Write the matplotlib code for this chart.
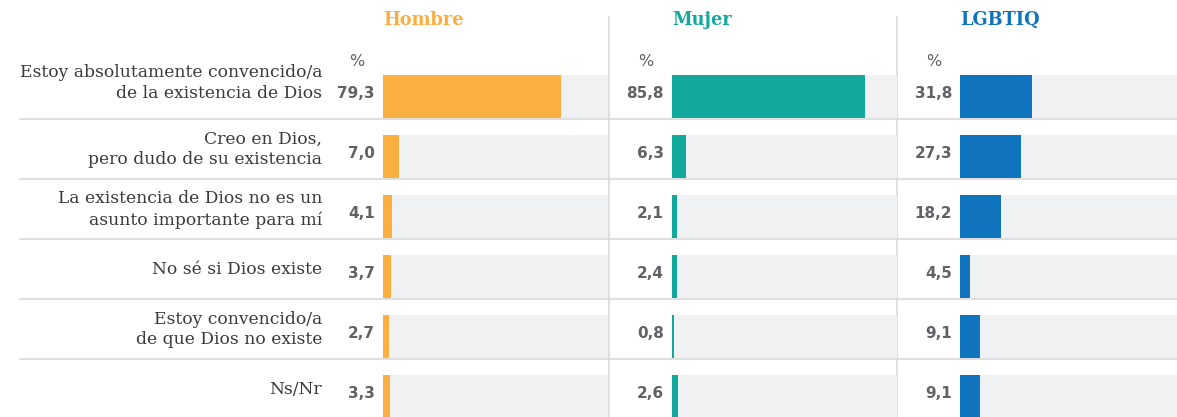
import matplotlib
matplotlib.use('Agg')
import matplotlib.pyplot as plt

categories = [
    'Estoy absolutamente convencido/a\nde la existencia de Dios',
    'Creo en Dios,\npero dudo de su existencia',
    'La existencia de Dios no es un\nasunto importante para mí',
    'No sé si Dios existe',
    'Estoy convencido/a\nde que Dios no existe',
    'Ns/Nr',
]
groups = ['Hombre', 'Mujer', 'LGBTIQ']
hombre = [79.3, 7.0, 4.1, 3.7, 2.7, 3.3]
mujer = [85.8, 6.3, 2.1, 2.4, 0.8, 2.6]
lgbtiq = [31.8, 27.3, 18.2, 4.5, 9.1, 9.1]

W, H = 1177, 417
colors = ['#FBAF41', '#12A89C', '#1174BE']
bg_gray = '#F0F1F3'
line_gray = '#DCDCDC'
value_color = '#616166'
label_color = '#3a3a3a'

fig = plt.figure(figsize=(W / 100, H / 100), dpi=100)

# row band: 6 rows of 60 px, first row centred at y=96.5 px from top
top_px, row_px = 66.5, 60
n = len(categories)
ax_bottom = (H - (top_px + n * row_px)) / H
ax_height = n * row_px / H

# background axes, x in pixels
bg = fig.add_axes([0, ax_bottom, 1, ax_height], zorder=0)
bg.set_xlim(0, W)
bg.set_ylim(n - 0.5, -0.5)
bg.axis('off')

for i, cat in enumerate(categories):
    # labels sit a little above the bar centre (more so in the first row)
    lift = 13.5 if i == 0 else 7
    bg.annotate(cat, xy=(322, i), xytext=(0, lift), textcoords='offset pixels',
                ha='right', va='center', family='DejaVu Serif',
                fontsize=12.3, color=label_color, linespacing=1.26)
    if i < n - 1:
        bg.axhline(i + 0.375, xmin=20 / W, xmax=1, color=line_gray, lw=1.3)

panel_left = [383, 672, 960]
for x0 in (608.5, 896.5):
    fig.add_artist(plt.Line2D([x0 / W, x0 / W], [0, (H - 17) / H],
                              color=line_gray, lw=1.3, zorder=1))

for k, (name, vals) in enumerate(zip(groups, [hombre, mujer, lgbtiq])):
    ax = fig.add_axes([panel_left[k] / W, ax_bottom, 225 / W, ax_height], zorder=2)
    ax.set_xlim(0, 100)
    ax.set_ylim(n - 0.5, -0.5)
    ax.axis('off')
    ax.patch.set_alpha(0)
    rows = list(range(n))
    ax.barh(rows, [100] * n, height=0.71, color=bg_gray, zorder=1)
    ax.barh(rows, vals, height=0.71, color=colors[k], zorder=2)
    for i, v in enumerate(vals):
        ax.annotate(f'{v:.1f}'.replace('.', ','), xy=(0, i), xytext=(-8, 3.5),
                    textcoords='offset pixels', ha='right', va='center',
                    family='DejaVu Sans', fontweight='bold', fontsize=11,
                    color=value_color)
    ax.annotate('%', xy=(0, 0), xytext=(-26, 34.5), textcoords='offset pixels',
                ha='center', va='center', family='DejaVu Sans', fontsize=11.5,
                color=value_color)
    fig.text(panel_left[k] / W, (H - 20) / H, name, ha='left', va='center',
             family='DejaVu Serif', fontweight='bold', fontsize=12.8,
             color=colors[k])

fig.savefig('out.png', dpi=100)
